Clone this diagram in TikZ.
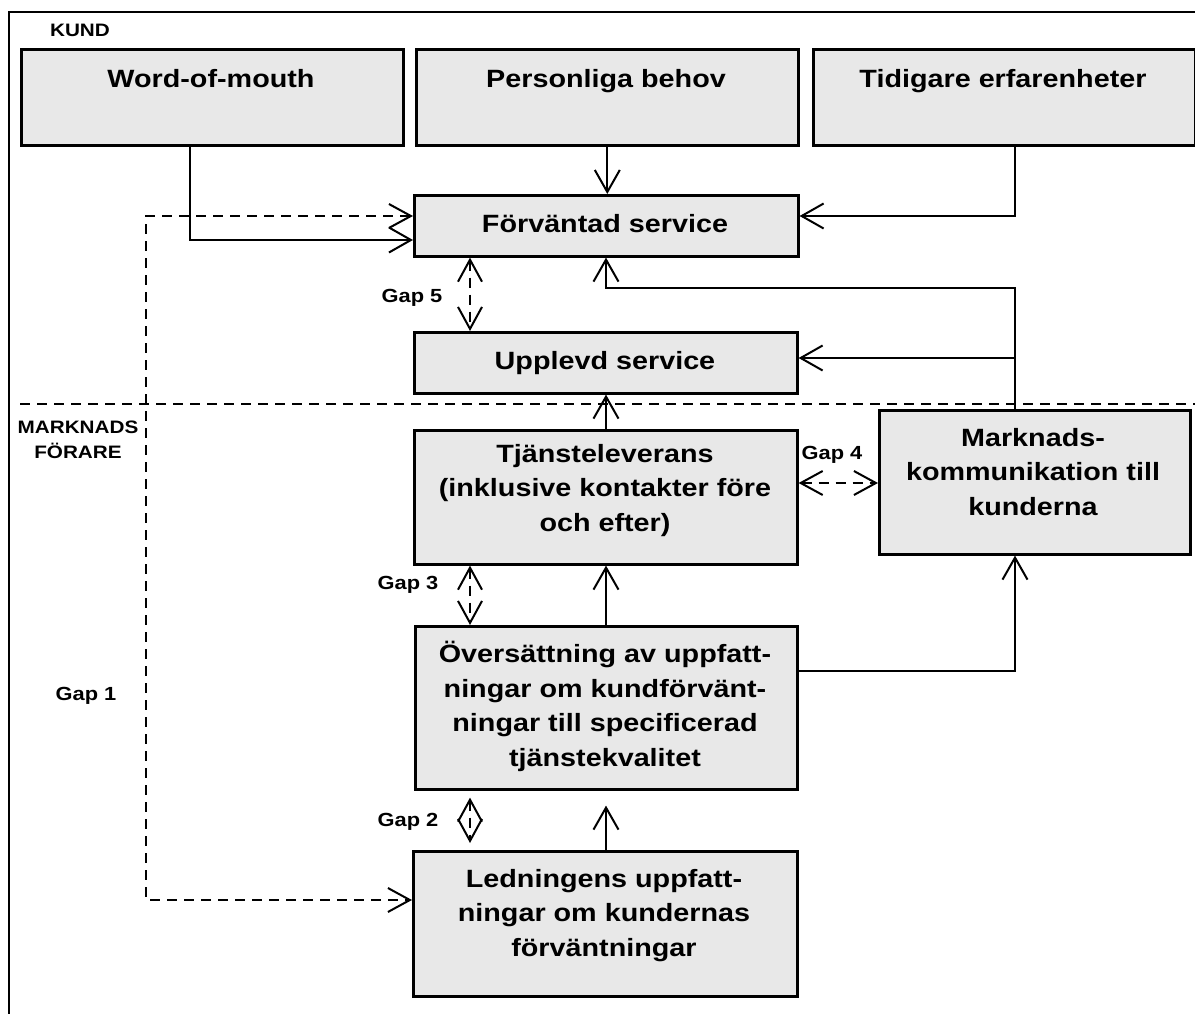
\documentclass[tikz,border=0pt]{standalone}
\usepackage{fontspec}
\setmainfont{Liberation Sans}[FakeStretch=1.15]
\usetikzlibrary{arrows.meta}
\definecolor{boxgray}{RGB}{232,232,232}
\begin{document}
\begin{tikzpicture}[x=1pt,y=-1pt,
 box/.style={draw, line width=2.6pt, fill=boxgray, inner sep=0pt, anchor=north west},
 ttl/.style={font=\fontsize{25}{34.5}\selectfont\bfseries, align=center, inner sep=0pt, anchor=base},
 lbl/.style={font=\fontsize{19}{24}\selectfont\bfseries, align=center, inner sep=0pt, anchor=base},
 conn/.style={line width=2pt, -{Straight Barb[length=22pt,width=25pt]}},
 dconn/.style={line width=2pt, dash pattern=on 10pt off 7pt, {Straight Barb[length=22pt,width=24pt]}-{Straight Barb[length=22pt,width=24pt]}},
 divider/.style={line width=2pt, dash pattern=on 10pt off 7pt},
]
\useasboundingbox (0,0) rectangle (1195,1014);
% frame
\coordinate (fbl) at (9,1014);
\coordinate (ftl) at (9,12);
\coordinate (ftr) at (1196,12);
\draw[line width=2pt] (fbl) -- (ftl) -- (ftr);
% divider
\coordinate (dl) at (20,404);
\coordinate (dr) at (1195,404);
\draw[divider] (dl) -- (dr);

% boxes
\node[box, minimum width=382pt, minimum height=96pt] (wom) at (20,48) {};
\node[box, minimum width=382pt, minimum height=96pt] (pers) at (415,48) {};
\node[box, minimum width=382pt, minimum height=96pt] (tid) at (812,48) {};
\node[box, minimum width=384pt, minimum height=61pt] (forv) at (413,194) {};
\node[box, minimum width=383pt, minimum height=61pt] (uppl) at (413,331) {};
\node[box, minimum width=383pt, minimum height=134pt] (tjan) at (413,429) {};
\node[box, minimum width=311pt, minimum height=144pt] (mark) at (878,409) {};
\node[box, minimum width=382pt, minimum height=163pt] (over) at (414,625) {};
\node[box, minimum width=384pt, minimum height=145pt] (led) at (412,850) {};

% texts (anchor base = baseline of last line)
\node[ttl] (womt) at (211,88) {Word-of-mouth};
\node[ttl] (perst) at (606,88) {Personliga behov};
\node[ttl] (tidt) at (1003,88) {Tidigare erfarenheter};
\node[ttl] (forvt) at (605,233) {Förväntad service};
\node[ttl] (upplt) at (605,369) {Upplevd service};
\node[ttl] (tjant) at (605,531) {Tjänsteleverans\\(inklusive kontakter före\\och efter)};
\node[ttl] (markt) at (1033,515) {Marknads-\\kommunikation till\\kunderna};
\node[ttl] (overt) at (605,766) {Översättning av uppfatt-\\ningar om kundförvänt-\\ningar till specificerad\\tjänstekvalitet};
\node[ttl] (ledt) at (604,956) {Ledningens uppfatt-\\ningar om kundernas\\förväntningar};

% labels
\node[lbl, font=\fontsize{18}{24}\selectfont\bfseries] (kund) at (80,37) {KUND};
\node[lbl, font=\fontsize{18}{25}\selectfont\bfseries] (mf) at (78,458) {MARKNADS\\FÖRARE};
\node[lbl] (gap5) at (412,302) {Gap 5};
\node[lbl] (gap4) at (832,459) {Gap 4};
\node[lbl] (gap3) at (408,589) {Gap 3};
\node[lbl] (gap2) at (408,826) {Gap 2};
\node[lbl] (gap1) at (86,700) {Gap 1};

% helper coordinates
\coordinate (wx) at (190,240);
\coordinate (g1) at (146,216);
\coordinate (g1b) at (146,900);
\coordinate (tx) at (1015,216);
\coordinate (mx) at (1015,288);
\coordinate (mx2) at (606,288);
\coordinate (my) at (1015,358);
\coordinate (ox) at (1015,671);
\coordinate (gx) at (470,0);
\coordinate (g4) at (0,483);

% solid connectors
\draw[conn] (wom.south -| wx) |- (forv.west |- wx);
\draw[conn] (pers.south) -- (pers.south |- forv.north);
\draw[conn] (tid.south -| tx) |- (forv.east |- tx);
\draw[conn] (mark.north -| mx) -- (mx) -- (mx2) -- (forv.south -| mx2);
\draw[conn] (my) -- (uppl.east |- my);
\draw[conn] (tjan.north -| mx2) -- (uppl.south -| mx2);
\draw[conn] (over.north -| mx2) -- (tjan.south -| mx2);
\draw[conn] (led.north -| mx2) -- ([yshift=-15pt]over.south -| mx2);
\draw[conn] (over.east |- ox) -| (mark.south -| ox);

% dashed gaps
\draw[dconn] (forv.west |- g1) -- (g1) -- (g1b) -- (led.west |- g1b);
\draw[dconn] (forv.south -| gx) -- (uppl.north -| gx);
\draw[dconn] (tjan.south -| gx) -- (over.north -| gx);
\draw[dconn] ([yshift=-7pt]over.south -| gx) -- ([yshift=7pt]led.north -| gx);
\draw[dconn] (tjan.east |- g4) -- (mark.west |- g4);
\end{tikzpicture}
\end{document}
